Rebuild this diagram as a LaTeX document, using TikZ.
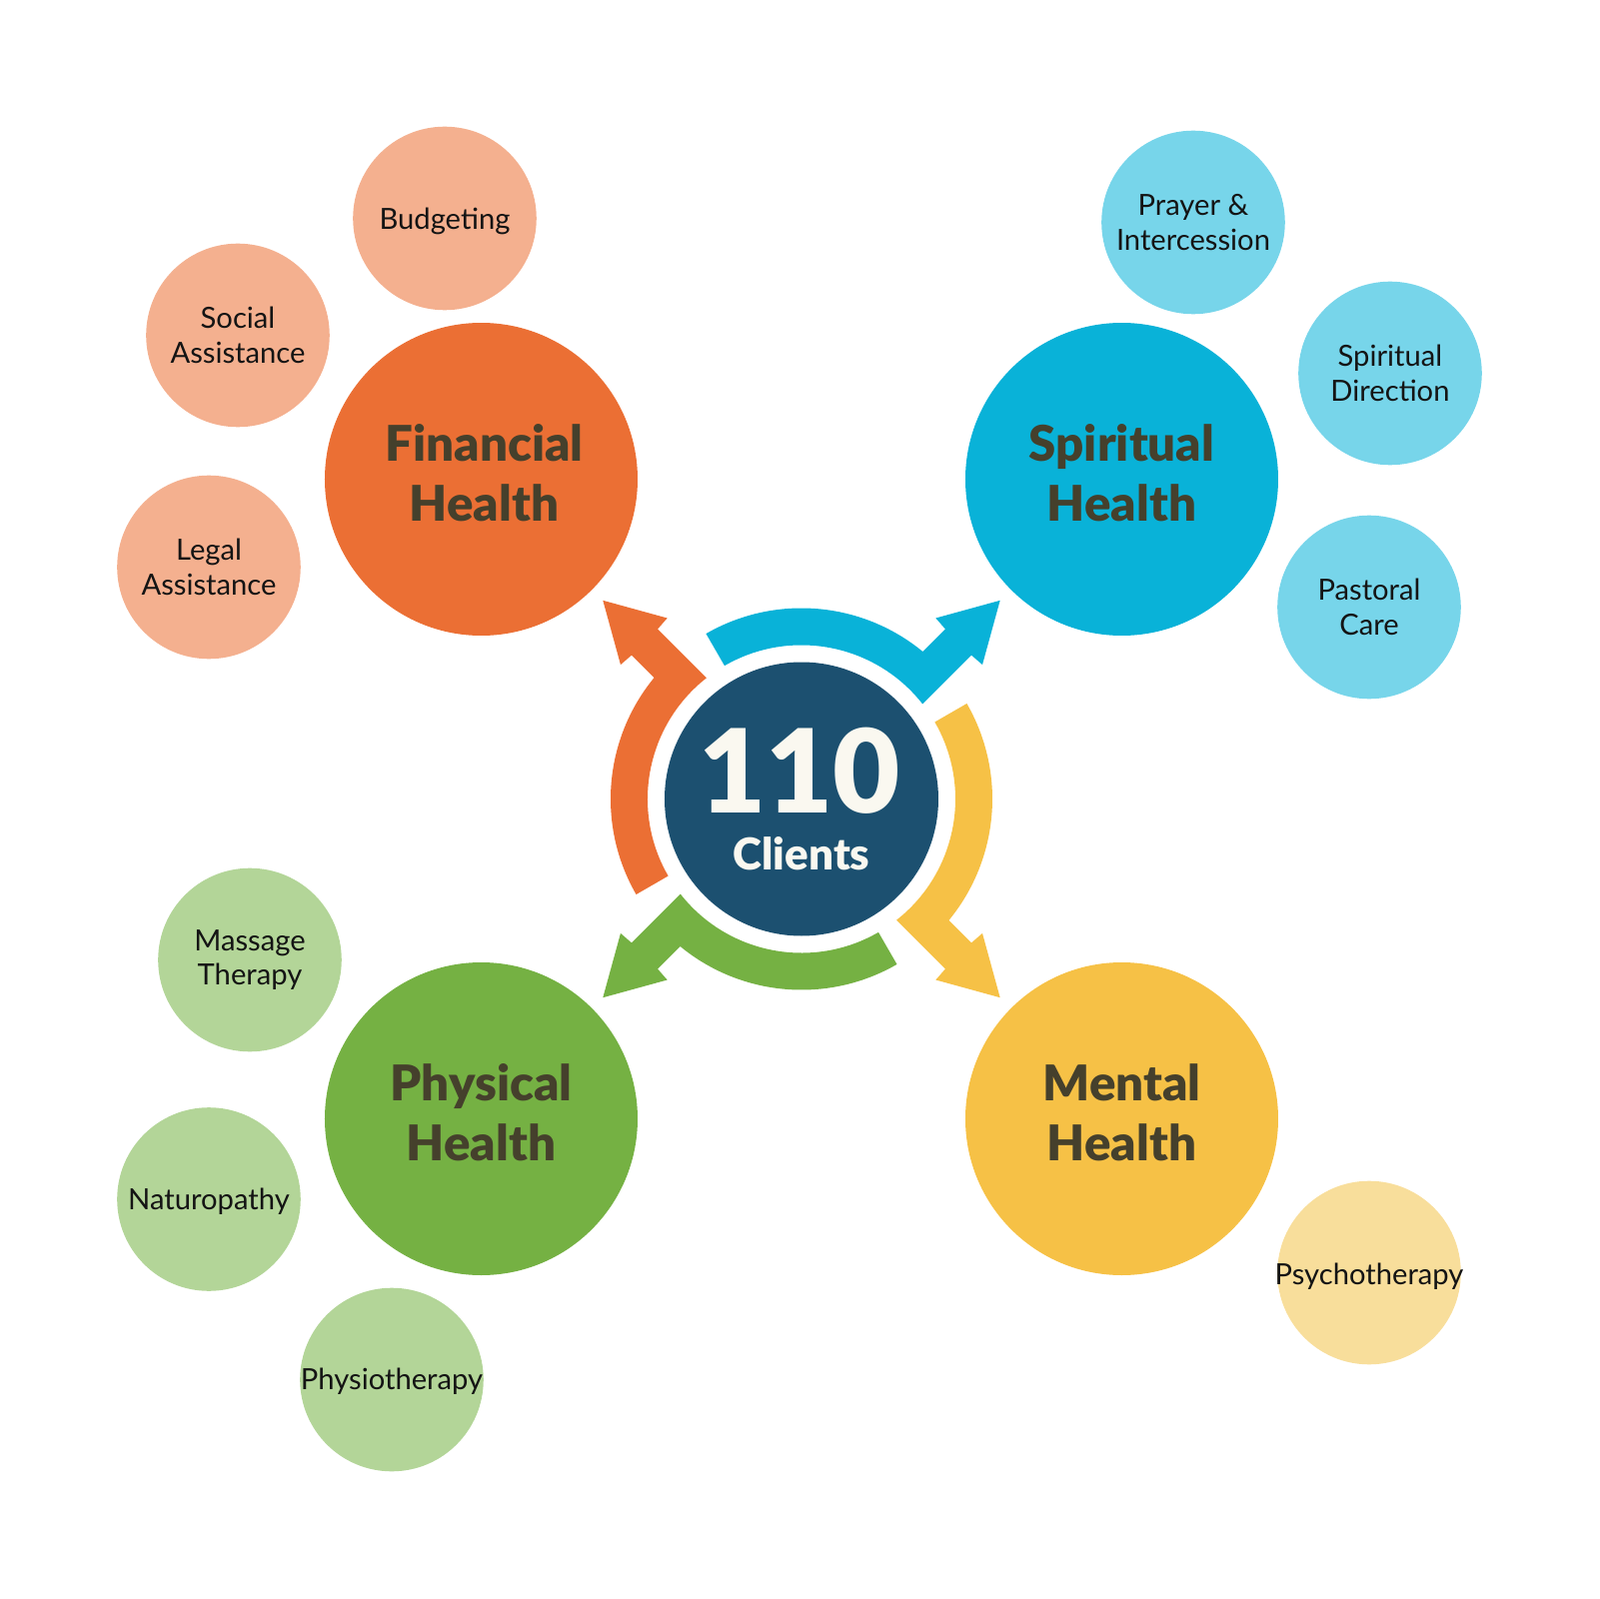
\documentclass[tikz,border=0pt]{standalone}
\usepackage{fontspec}
\setmainfont{Lato}
\newfontfamily\heavyfont{Lato Black}
\definecolor{finOrange}{RGB}{235,111,52}
\definecolor{spiBlue}{RGB}{9,178,216}
\definecolor{menYellow}{RGB}{246,193,70}
\definecolor{phyGreen}{RGB}{117,177,67}
\definecolor{hubNavy}{RGB}{28,80,112}
\definecolor{finLight}{RGB}{244,176,143}
\definecolor{spiLight}{RGB}{119,213,234}
\definecolor{menLight}{RGB}{248,222,155}
\definecolor{phyLight}{RGB}{179,213,152}
\definecolor{headText}{RGB}{69,64,44}
\definecolor{hubText}{RGB}{250,248,240}
\definecolor{leafText}{RGB}{20,20,20}
\tikzset{
  hub/.style={circle, fill=hubNavy, minimum size=27.4mm, inner sep=0pt},
  area/.style={circle, minimum size=31.3mm, inner sep=0pt},
  leafc/.style={circle, minimum size=18.36mm, inner sep=0pt},
  head/.style={align=center, text=headText, font=\heavyfont\fontsize{14}{17}\selectfont},
  leaf/.style={align=center, text=leafText, font=\fontsize{8.3}{9.8}\selectfont}
}
\begin{document}
\begin{tikzpicture}[x=0.1mm, y=0.1mm]
\useasboundingbox (-802,-800.5) rectangle (798,799.5);
% Centre
\coordinate (O) at (0,0);
% Define radii
\def\rin{154} % inner edge of the ring
\def\rout{191} % outer edge of the ring
\def\hw{18.5} % half width of a shaft
% Ring arrows, one per quarter
\foreach \d/\col in {135/finOrange, 45/spiBlue, -45/menYellow, 225/phyGreen}{
  \pgfmathsetmacro{\ai}{-asin(\hw/\rin)}
  \pgfmathsetmacro{\ao}{asin(\hw/\rout)}
  \pgfmathsetmacro{\xi}{\rin*cos(\ai)}
  \fill[\col, rotate=\d] (\xi,-\hw) -- (222,-\hw) -- (223,-33) -- (281,0)
    -- (223,33) -- (222,\hw) -- (\ao:\rout)
    arc[start angle=\ao, end angle=75, radius=\rout] -- (75:\rin)
    arc[start angle=75, end angle=\ai, radius=\rin] -- cycle;
}
% Hub
\node[hub] (hub) at (O) {};
\node[anchor=base, text=hubText, font=\heavyfont\fontsize{33}{33}\selectfont] (count) at (-2,-14) {110};
\node[anchor=base, text=hubText, font=\heavyfont\fontsize{12.5}{12.5}\selectfont] (clients) at (0,-71) {Clients};
% Health areas
\node[area, fill=finOrange] (fin) at (-320.5,320) {};
\node[area, fill=spiBlue] (spi) at (320.5,320) {};
\node[area, fill=phyGreen] (phy) at (-320.5,-320) {};
\node[area, fill=menYellow] (men) at (320.5,-320) {};
\node[head] (fin-t) at ([shift={(3,6)}]fin.center) {Financial\\Health};
\node[head] (spi-t) at ([shift={(0,6)}]spi.center) {Spiritual\\Health};
\node[head] (phy-t) at ([shift={(0,6)}]phy.center) {Physical\\Health};
\node[head] (men-t) at ([shift={(0,6)}]men.center) {Mental\\Health};
% Services (name / position / colour / text shift / text)
\foreach \n/\x/\y/\c/\s/\t in {
  budget/-357/581/finLight/-3/{Budgeting},
  social/-564/464/finLight/0/{Social\\Assistance},
  legal/-593/232/finLight/0/{Legal\\Assistance},
  prayer/392/577/spiLight/0/{Prayer \&\\Intercession},
  direct/589/426/spiLight/0/{Spiritual\\Direction},
  pastor/568/192/spiLight/0/{Pastoral\\Care},
  massage/-552/-161/phyLight/0/{Massage\\Therapy},
  naturo/-593/-400.5/phyLight/-2/{Naturopathy},
  physio/-410/-581/phyLight/-2/{Physiotherapy},
  psycho/568/-474/menLight/-4/{Psychotherapy}}{
  \node[leafc, fill=\c] (\n) at (\x,\y) {};
  \node[leaf] (\n-t) at ([yshift=\s*0.1mm]\n.center) {\t};
}
\end{tikzpicture}
\end{document}
